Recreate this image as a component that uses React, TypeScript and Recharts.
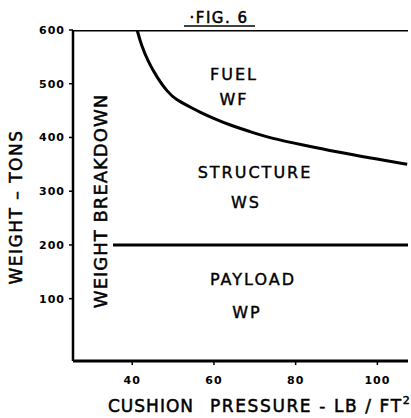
import { LineChart, Line, XAxis, YAxis } from 'recharts';

// cushion pressure (lb/ft²) and the top of the structure band (tons)
const pressure = [41.2, 42.2, 43.9, 46.3, 48.5, 50.7, 54.1, 56.6, 59.8, 63.9, 68.8, 73.7, 81.8, 90.1, 98.2, 107.3];
const structureTop = [600, 572, 541, 509, 486, 470, 457, 447, 436, 423, 411, 399, 386, 373, 362, 350];

// gross weight line and payload line
const grossPressure = [25.5, 107.5];
const grossWeight = [600, 600];
const payloadPressure = [35.3, 107.5];
const payloadWeight = [200, 200];

const xTicks = [40, 60, 80, 100];
const yTicks = [100, 200, 300, 400, 500, 600];

const curveData = pressure.map((p, i) => ({ p, w: structureTop[i] }));
const grossData = grossPressure.map((p, i) => ({ p, w: grossWeight[i] }));
const payloadData = payloadPressure.map((p, i) => ({ p, w: payloadWeight[i] }));

const FONT = '"DejaVu Sans", sans-serif';
const ink = '#000';

export default function App() {
  const regionText = {
    fontFamily: FONT,
    fontSize: 16,
    fill: ink,
    stroke: ink,
    strokeWidth: 0.4,
    letterSpacing: 2,
    textAnchor: 'middle' as const,
  };
  const titleText = { fontFamily: FONT, fill: ink, stroke: ink, strokeWidth: 0.5 };
  return (
    <div style={{ position: 'absolute', left: 0, top: 0, background: '#fff' }}>
      <LineChart width={411} height={418} margin={{ top: 30, right: 3, left: 0, bottom: 0 }}>
        <XAxis
          dataKey="p"
          type="number"
          domain={[25.5, 107.5]}
          ticks={xTicks}
          allowDataOverflow
          height={57}
          axisLine={{ stroke: ink, strokeWidth: 3 }}
          tickLine={{ stroke: ink, strokeWidth: 1.5 }}
          tickSize={4}
          tickMargin={11}
          tick={{ fill: ink, fontSize: 11, fontWeight: 'bold', fontFamily: FONT, letterSpacing: 1 }}
        />
        <YAxis
          dataKey="w"
          type="number"
          domain={[-16, 600]}
          ticks={yTicks}
          allowDataOverflow
          width={73}
          axisLine={{ stroke: ink, strokeWidth: 2.5 }}
          tickLine={{ stroke: ink, strokeWidth: 1.5 }}
          tickSize={4}
          tickMargin={4}
          tick={{ fill: ink, fontSize: 11, fontWeight: 'bold', fontFamily: FONT, letterSpacing: 1 }}
        />
        <Line data={grossData} dataKey="w" type="linear" stroke={ink} strokeWidth={3} dot={false} isAnimationActive={false} />
        <Line data={payloadData} dataKey="w" type="linear" stroke={ink} strokeWidth={3} dot={false} isAnimationActive={false} />
        <Line data={curveData} dataKey="w" type="basis" stroke={ink} strokeWidth={3} dot={false} isAnimationActive={false} />

        <text x={219} y={23} textAnchor="middle" fontSize={15} letterSpacing={1.5} {...titleText}>·FIG. 6</text>
        <line x1={184} y1={26} x2={255} y2={26} stroke={ink} strokeWidth={1.5} />

        <text x={234} y={80} {...regionText}>FUEL</text>
        <text x={234} y={105} {...regionText}>WF</text>
        <text x={255} y={178} {...regionText}>STRUCTURE</text>
        <text x={246} y={208} {...regionText}>WS</text>
        <text x={253} y={285} {...regionText}>PAYLOAD</text>
        <text x={247} y={318} {...regionText}>WP</text>

        <text
          x={0}
          y={0}
          transform="translate(107 201) rotate(-90)"
          textAnchor="middle"
          fontSize={18}
          letterSpacing={1}
          {...titleText}
        >
          WEIGHT  BREAKDOWN
        </text>
        <text
          x={0}
          y={0}
          transform="translate(22 207) rotate(-90)"
          textAnchor="middle"
          fontSize={17}
          letterSpacing={1.5}
          {...titleText}
        >
          WEIGHT – TONS
        </text>
        <text x={108} y={412} fontSize={17} letterSpacing={1} {...titleText}>
          CUSHION
        </text>
        <text x={210} y={412} fontSize={17} letterSpacing={1.6} {...titleText}>
          PRESSURE - LB / FT
          <tspan fontSize={11} dy={-8}>2</tspan>
        </text>
      </LineChart>
    </div>
  );
}
